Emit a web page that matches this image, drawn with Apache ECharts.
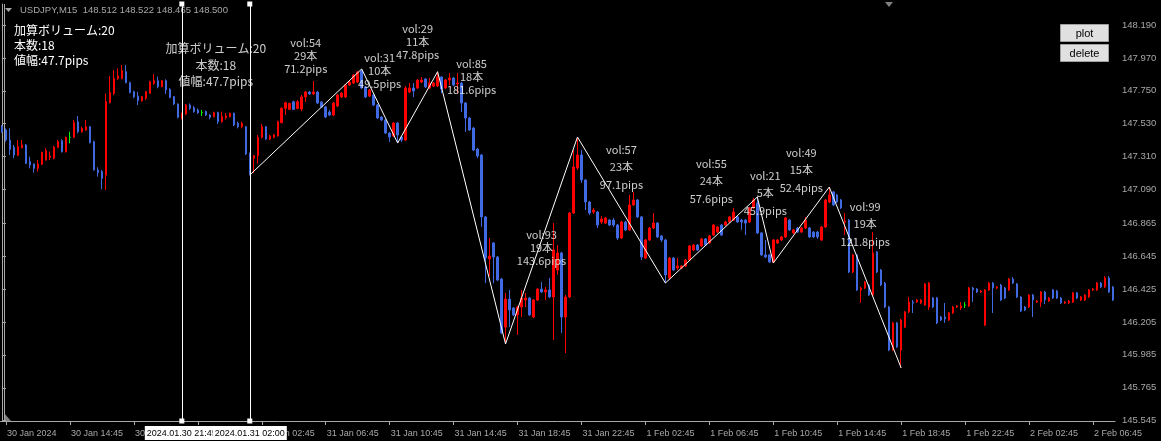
<!DOCTYPE html>
<html><head><meta charset="utf-8">
<script src="https://cdn.jsdelivr.net/npm/echarts@6/dist/echarts.min.js"></script>
<style>html,body{margin:0;padding:0;background:#000;overflow:hidden}#c{width:1161px;height:441px}</style>
</head><body><div id="c"></div>
<script>
// [open, close, low, high] per 15-minute bar
const candles = [
[147.510,147.477,147.470,147.522],[147.488,147.421,147.410,147.499],[147.421,147.359,147.321,147.499],[147.372,147.321,147.299,147.388],
[147.321,147.377,147.314,147.421],[147.370,147.388,147.366,147.421],[147.388,147.265,147.261,147.394],[147.277,147.254,147.232,147.310],
[147.261,147.232,147.203,147.265],[147.232,147.261,147.210,147.288],[147.259,147.339,147.254,147.343],[147.288,147.350,147.284,147.366],
[147.305,147.314,147.288,147.343],[147.299,147.372,147.292,147.381],[147.372,147.410,147.366,147.421],[147.417,147.343,147.337,147.426],
[147.343,147.439,147.337,147.444],[147.439,147.439,147.399,147.477],[147.439,147.537,147.432,147.555],[147.544,147.477,147.466,147.582],
[147.477,147.499,147.470,147.510],[147.488,147.510,147.484,147.555],[147.510,147.403,147.399,147.515],[147.410,147.221,147.217,147.417],
[147.221,147.203,147.176,147.239],[147.210,147.165,147.092,147.221],[147.187,147.677,147.087,147.733],[147.671,147.738,147.666,147.849],
[147.733,147.833,147.722,147.889],[147.833,147.849,147.822,147.900],[147.833,147.885,147.827,147.923],[147.878,147.804,147.800,147.923],
[147.804,147.738,147.733,147.811],[147.744,147.711,147.700,147.751],[147.715,147.684,147.655,147.744],[147.684,147.711,147.677,147.715],
[147.700,147.744,147.689,147.751],[147.733,147.811,147.729,147.818],[147.800,147.818,147.789,147.862],[147.818,147.778,147.767,147.845],
[147.778,147.818,147.773,147.822],[147.818,147.756,147.729,147.827],[147.760,147.706,147.700,147.767],[147.711,147.662,147.655,147.715],
[147.662,147.573,147.566,147.666],[147.566,147.600,147.559,147.604],[147.595,147.655,147.588,147.662],[147.655,147.633,147.622,147.666],
[147.637,147.611,147.604,147.649],[147.622,147.604,147.595,147.633],[147.604,147.604,147.582,147.622],[147.611,147.588,147.582,147.618],
[147.588,147.573,147.559,147.593],[147.577,147.604,147.573,147.611],[147.604,147.544,147.528,147.611],[147.544,147.577,147.537,147.611],
[147.571,147.582,147.559,147.600],[147.577,147.600,147.573,147.604],[147.600,147.522,147.515,147.604],[147.533,147.510,147.499,147.544],
[147.510,147.533,147.499,147.544],[147.510,147.328,147.321,147.515],[147.332,147.305,147.187,147.337],[147.299,147.317,147.199,147.321],
[147.317,147.439,147.265,147.455],[147.439,147.510,147.432,147.528],[147.510,147.428,147.421,147.515],[147.428,147.448,147.421,147.455],
[147.439,147.455,147.432,147.462],[147.448,147.544,147.444,147.551],[147.537,147.633,147.533,147.640],[147.633,147.671,147.588,147.677],
[147.626,147.666,147.622,147.671],[147.677,147.626,147.622,147.684],[147.633,147.677,147.626,147.689],[147.628,147.709,147.615,147.722],
[147.709,147.742,147.675,147.749],[147.742,147.729,147.722,147.749],[147.729,147.742,147.722,147.816],[147.742,147.669,147.662,147.749],
[147.675,147.642,147.635,147.682],[147.642,147.575,147.568,147.649],[147.608,147.588,147.581,147.622],[147.588,147.669,147.581,147.675],
[147.649,147.722,147.642,147.729],[147.709,147.735,147.702,147.742],[147.709,147.789,147.702,147.796],[147.789,147.809,147.782,147.816],
[147.802,147.856,147.796,147.862],[147.809,147.876,147.802,147.882],[147.882,147.769,147.762,147.896],[147.776,147.709,147.702,147.782],
[147.715,147.755,147.709,147.762],[147.722,147.655,147.649,147.729],[147.655,147.568,147.561,147.662],[147.575,147.555,147.548,147.581],
[147.555,147.468,147.461,147.561],[147.468,147.441,147.408,147.475],[147.448,147.535,147.441,147.541],[147.535,147.455,147.401,147.541],
[147.441,147.421,147.408,147.448],[147.421,147.769,147.415,147.782],[147.742,147.769,147.735,147.802],[147.769,147.749,147.709,147.802],
[147.769,147.822,147.762,147.829],[147.809,147.822,147.802,147.842],[147.829,147.776,147.769,147.836],[147.769,147.802,147.762,147.836],
[147.782,147.802,147.776,147.809],[147.782,147.842,147.776,147.878],[147.842,147.762,147.735,147.849],[147.769,147.822,147.762,147.829],
[147.822,147.836,147.789,147.869],[147.836,147.789,147.782,147.842],[147.796,147.802,147.735,147.869],[147.802,147.669,147.608,147.809],
[147.669,147.568,147.475,147.675],[147.568,147.488,147.481,147.575],[147.501,147.354,147.347,147.508],[147.361,147.314,147.301,147.368],
[147.321,146.907,146.840,147.328],[146.907,146.632,146.465,146.913],[146.626,146.646,146.512,146.766],[146.733,146.639,146.465,146.739],
[146.639,146.485,146.478,146.646],[146.492,146.131,146.124,146.499],[146.171,146.358,146.058,146.399],[146.358,146.285,146.171,146.419],
[146.298,146.252,146.245,146.305],[146.252,146.305,146.118,146.312],[146.305,146.365,146.238,146.419],[146.352,146.365,146.305,146.399],
[146.365,146.252,146.245,146.372],[146.238,146.352,146.231,146.358],[146.352,146.425,146.345,146.432],[146.425,146.405,146.399,146.472],
[146.405,146.419,146.352,146.439],[146.419,146.372,146.365,146.499],[146.372,146.686,146.084,146.866],[146.552,146.666,146.519,146.719],
[146.666,146.238,146.131,146.673],[146.238,146.372,145.997,146.385],[146.372,146.933,146.365,146.940],[146.933,147.241,146.927,147.354],
[147.234,147.321,147.221,147.441],[147.321,147.154,147.134,147.354],[147.154,147.007,146.953,147.160],[147.007,146.933,146.920,147.014],
[146.940,146.953,146.927,146.967],[146.940,146.853,146.833,146.947],[146.873,146.893,146.860,146.913],[146.866,146.900,146.860,146.907],
[146.886,146.853,146.846,146.893],[146.886,146.853,146.840,146.900],[146.853,146.766,146.753,146.860],[146.766,146.873,146.760,146.880],
[146.873,146.820,146.813,146.880],[146.820,146.987,146.813,147.054],[146.987,147.020,146.980,147.074],[147.020,146.907,146.900,147.027],
[146.907,146.639,146.619,146.913],[146.632,146.753,146.626,146.760],[146.753,146.833,146.746,146.840],[146.833,146.866,146.826,146.933],
[146.866,146.773,146.766,146.873],[146.780,146.753,146.739,146.786],[146.753,146.519,146.465,146.760],[146.499,146.632,146.485,146.639],
[146.632,146.552,146.545,146.639],[146.566,146.579,146.552,146.632],[146.565,146.579,146.559,146.586],[146.579,146.619,146.572,146.626],
[146.619,146.713,146.612,146.719],[146.686,146.719,146.679,146.726],[146.719,146.686,146.679,146.726],[146.713,146.760,146.706,146.766],
[146.760,146.719,146.713,146.766],[146.733,146.780,146.726,146.786],[146.786,146.853,146.780,146.860],[146.806,146.840,146.800,146.846],
[146.853,146.786,146.780,146.860],[146.853,146.873,146.846,146.880],[146.873,146.907,146.866,146.913],[146.886,146.940,146.880,146.967],
[146.907,146.873,146.866,146.913],[146.886,146.873,146.820,146.893],[146.886,146.866,146.786,146.893],[146.873,146.967,146.866,146.973],
[146.967,147.020,146.960,147.034],[147.000,146.800,146.793,147.040],[146.800,146.653,146.646,146.806],[146.653,146.639,146.632,146.753],
[146.653,146.606,146.599,146.660],[146.606,146.753,146.599,146.760],[146.733,146.753,146.726,146.760],[146.753,146.773,146.746,146.780],
[146.773,146.900,146.766,146.907],[146.886,146.820,146.813,146.893],[146.800,146.820,146.793,146.826],[146.833,146.806,146.800,146.840],
[146.806,146.833,146.800,146.840],[146.833,146.886,146.826,146.907],[146.833,146.773,146.766,146.840],[146.806,146.773,146.766,146.813],
[146.806,146.773,146.760,146.813],[146.753,146.840,146.746,146.846],[146.840,147.020,146.833,147.027],[147.007,147.054,147.000,147.107],
[147.074,146.987,146.980,147.080],[147.054,147.007,147.000,147.060],[147.020,146.967,146.960,147.027],[146.873,146.880,146.786,146.933],
[146.886,146.539,146.532,146.893],[146.539,146.653,146.532,146.660],[146.653,146.419,146.412,146.660],[146.419,146.432,146.332,146.439],
[146.432,146.472,146.425,146.479],[146.452,146.385,146.379,146.459],[146.385,146.666,146.379,146.806],[146.673,146.539,146.532,146.679],
[146.552,146.452,146.445,146.559],[146.465,146.305,146.298,146.472],[146.305,146.017,146.010,146.312],[146.017,146.198,146.010,146.205],
[146.198,146.038,146.031,146.205],[146.017,146.218,145.897,146.225],[146.171,146.272,146.164,146.278],[146.272,146.338,146.265,146.372],
[146.338,146.332,146.265,146.352],[146.338,146.352,146.332,146.358],[146.332,146.352,146.325,146.358],[146.318,146.459,146.312,146.465],
[146.305,146.465,146.285,146.472],[146.365,146.305,146.298,146.372],[146.365,146.198,146.191,146.372],[146.238,146.218,146.211,146.245],
[146.238,146.225,146.198,146.332],[146.218,146.265,146.211,146.272],[146.265,146.305,146.258,146.312],[146.305,146.312,146.298,146.318],
[146.298,146.312,146.285,146.338],[146.318,146.318,146.298,146.338],[146.312,146.432,146.305,146.439],[146.432,146.419,146.338,146.439],
[146.425,146.405,146.399,146.432],[146.405,146.412,146.399,146.419],[146.184,146.419,146.178,146.425],[146.419,146.465,146.412,146.472],
[146.465,146.432,146.265,146.472],[146.432,146.439,146.425,146.445],[146.452,146.352,146.345,146.459],[146.432,146.365,146.358,146.439],
[146.419,146.492,146.412,146.499],[146.492,146.465,146.459,146.505],[146.459,146.372,146.365,146.465],[146.372,146.278,146.271,146.379],
[146.305,146.285,146.278,146.312],[146.305,146.385,146.298,146.392],[146.385,146.352,146.238,146.392],[146.338,146.345,146.332,146.352],
[146.338,146.405,146.305,146.412],[146.405,146.352,146.325,146.412],[146.345,146.365,146.338,146.372],[146.419,146.365,146.358,146.425],
[146.412,146.365,146.358,146.419],[146.365,146.332,146.325,146.372],[146.332,146.338,146.325,146.345],[146.332,146.345,146.325,146.352],
[146.338,146.399,146.332,146.405],[146.399,146.365,146.358,146.405],[146.352,146.372,146.345,146.379],[146.352,146.385,146.345,146.392],
[146.372,146.419,146.365,146.425],[146.419,146.425,146.412,146.432],[146.419,146.465,146.412,146.472],[146.465,146.439,146.432,146.472],
[146.439,146.499,146.432,146.512],[146.499,146.405,146.399,146.512],[146.439,146.352,146.345,146.445]
];
const xTickLabels = ['30 Jan 2024','30 Jan 14:45','30 Jan 18:45','30 Jan 22:45','31 Jan 02:45','31 Jan 06:45','31 Jan 10:45','31 Jan 14:45','31 Jan 18:45','31 Jan 22:45','1 Feb 02:45','1 Feb 06:45','1 Feb 10:45','1 Feb 14:45','1 Feb 18:45','1 Feb 22:45','2 Feb 02:45','2 Feb 06:45'];
const yTickValues = [145.545,145.765,145.985,146.205,146.425,146.645,146.865,147.090,147.310,147.530,147.750,147.970,148.190];
const zigzag = [[62,147.187],[90,147.896],[99,147.401],[109,147.878],[126,146.058],[144,147.441],[166,146.465],[189,147.040],[193,146.599],[207,147.107],[225,145.897]];
const legVol = ['vol:54','vol:31','vol:29','vol:85','vol:93','vol:57','vol:55','vol:21','vol:49','vol:99'];
const legBars = ['29本','10本','11本','18本','19本','23本','24本','5本','15本','19本'];
const legPips = ['71.2pips','49.5pips','47.8pips','181.6pips','143.6pips','97.1pips','57.6pips','45.9pips','52.4pips','121.8pips'];
const legTextPrice = [147.983,147.882,148.076,147.842,146.699,147.241,147.147,147.067,147.221,146.860];
const vLines = [45, 62];
const vLineLabels = ['2024.01.30 21:45','2024.01.31 02:00'];
const sumInfo = ['加算ボリューム:20','本数:18','値幅:47.7pips'];
const sumTextPrice = 147.923;
const headerText = 'USDJPY,M15  148.512 148.522 148.465 148.500';

const N = candles.length;
const firstTick = 1, tickStep = 16;
const isTick = i => i >= firstTick && (i - firstTick) % tickStep === 0;
const GRAY = '#a8a8a8';
const JP = '"Noto Sans CJK JP","Noto Sans",sans-serif';
const LAT = '"Liberation Sans",Arial,sans-serif';

// annotation anchors: text centred at the midpoint of each zigzag leg
const annData = legVol.map((v, k) => ({
  value: [(zigzag[k][0] + zigzag[k+1][0]) / 2, legTextPrice[k]],
  label: { lineHeight: k < 5 ? 13 : 17.5 }
}));
const sumData = [{ value: [(vLines[0] + vLines[1]) / 2, sumTextPrice] }];

const chart = echarts.init(document.getElementById('c'), null, { renderer: 'canvas' });
chart.setOption({
  backgroundColor: '#000000',
  animation: false,
  grid: { left: -1, right: 46, top: 4, bottom: 20, show: false },
  xAxis: [{
    type: 'category',
    data: candles.map((_, i) => String(i)),
    boundaryGap: true,
    axisLine: { show: true, lineStyle: { color: GRAY, width: 1 } },
    axisTick: { show: true, alignWithLabel: true, interval: (i) => isTick(i), length: 4, lineStyle: { color: GRAY } },
    axisLabel: {
      show: true, interval: (i) => isTick(i), color: GRAY, fontSize: 9, fontFamily: LAT,
      align: 'left', margin: 8, padding: [0, 0, 0, 1],
      formatter: (v, i) => isTick(i) ? xTickLabels[(i - firstTick) / tickStep] : ''
    },
    splitLine: { show: false }
  }, {
    type: 'value', min: -0.5, max: N - 0.5, show: false
  }],
  yAxis: {
    type: 'value', position: 'right', min: 145.5429, max: 148.3304, scale: true,
    axisLine: { show: true, lineStyle: { color: GRAY, width: 1 } },
    axisTick: { show: true, length: 4, customValues: yTickValues, lineStyle: { color: GRAY } },
    axisLabel: { show: true, customValues: yTickValues, color: GRAY, fontSize: 9.5, fontFamily: LAT, margin: 7,
      formatter: v => Number(v).toFixed(3) },
    splitLine: { show: false }
  },
  series: [{
    type: 'candlestick',
    data: candles,
    barWidth: 2,
    itemStyle: { color: '#ff0000', color0: '#4169e1', borderColor: '#ff0000', borderColor0: '#4169e1', borderColorDoji: '#00ff00', borderWidth: 1 },
    emphasis: { disabled: true },
    z: 2,
    markLine: {
      silent: true, animation: false, z: 10,
      symbol: ['rect', 'rect'], symbolSize: 5,
      lineStyle: { color: '#ffffff', width: 1, type: 'solid' },
      label: {
        show: true, position: 'start', distance: 5,
        backgroundColor: '#ffffff', color: '#000000', fontSize: 9, fontFamily: LAT, padding: [3, 2, 2, 2],
        formatter: p => vLineLabels[p.dataIndex]
      },
      data: vLines.map(v => ({ xAxis: v }))
    }
  }, {
    type: 'line',
    xAxisIndex: 1,
    data: zigzag,
    symbol: 'none',
    lineStyle: { color: '#ffffff', width: 1 },
    z: 5, silent: true
  }, {
    type: 'scatter',
    xAxisIndex: 1,
    data: annData,
    symbolSize: 1,
    itemStyle: { color: 'rgba(0,0,0,0)' },
    silent: true, z: 6,
    label: {
      show: true, position: 'inside', color: '#ffffff', fontSize: 11, fontFamily: JP, align: 'center', verticalAlign: 'middle',
      formatter: p => legVol[p.dataIndex] + '\n' + legBars[p.dataIndex] + '\n' + legPips[p.dataIndex]
    }
  }, {
    type: 'scatter',
    xAxisIndex: 1,
    data: sumData,
    symbolSize: 1,
    itemStyle: { color: 'rgba(0,0,0,0)' },
    silent: true, z: 6,
    label: {
      show: true, position: 'inside', color: '#ffffff', fontSize: 12, fontFamily: JP, lineHeight: 16.5,
      align: 'center', verticalAlign: 'middle',
      formatter: () => sumInfo.join('\n')
    }
  }],
  graphic: [
    { type: 'polygon', shape: { points: [[5, 8], [12, 8], [8.5, 12]] }, style: { fill: GRAY } },
    { type: 'text', left: 20, top: 5, style: { text: headerText, fill: GRAY, font: '9.5px ' + LAT } },
    { type: 'polygon', shape: { points: [[885, 2], [893, 2], [889, 7]] }, style: { fill: '#808080' } },
    { type: 'polygon', shape: { points: [[4, 413], [4, 421], [11, 421]] }, style: { fill: '#808080' } },
    { type: 'line', shape: { x1: 4.5, y1: 4, x2: 4.5, y2: 421 }, style: { stroke: GRAY, lineWidth: 1 } },
    { type: 'text', left: 14, top: 23, style: { text: sumInfo.join('\n'), fill: '#ffffff', font: '12px ' + JP, lineHeight: 15 } },
    { type: 'group', left: 1060, top: 24, children: [
      { type: 'rect', shape: { x: 0, y: 0, width: 48, height: 17 }, style: { fill: '#e0e0e0', stroke: '#a0a0a0', lineWidth: 1 } },
      { type: 'text', style: { text: 'plot', x: 24, y: 9, align: 'center', verticalAlign: 'middle', fill: '#000', font: '11px ' + LAT } }
    ]},
    { type: 'group', left: 1060, top: 44, children: [
      { type: 'rect', shape: { x: 0, y: 0, width: 48, height: 17 }, style: { fill: '#e0e0e0', stroke: '#a0a0a0', lineWidth: 1 } },
      { type: 'text', style: { text: 'delete', x: 24, y: 9, align: 'center', verticalAlign: 'middle', fill: '#000', font: '11px ' + LAT } }
    ]}
  ]
});
</script></body></html>
